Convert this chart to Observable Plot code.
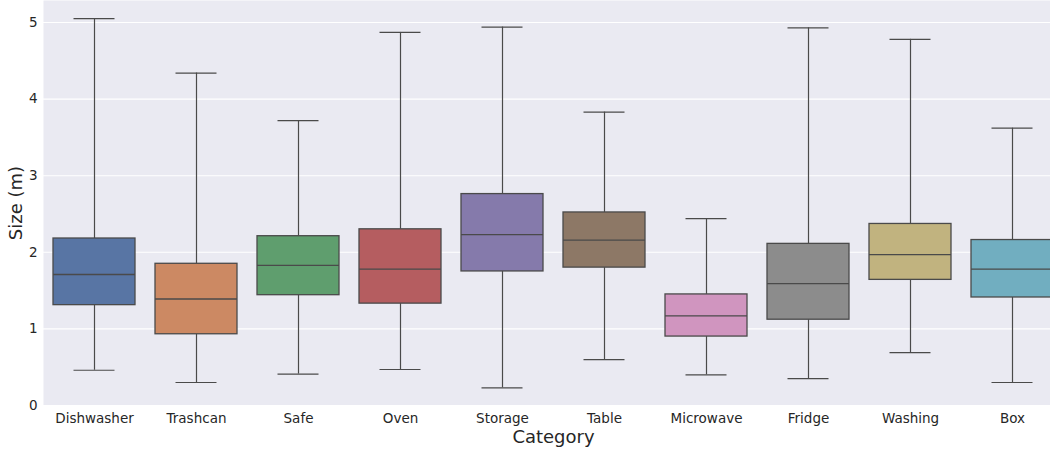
<!DOCTYPE html>
<html>
<head>
<meta charset="utf-8">
<script src="https://cdn.jsdelivr.net/npm/d3@7"></script>
<script src="https://cdn.jsdelivr.net/npm/@observablehq/plot@0.6"></script>
<style>
  html, body { margin: 0; padding: 0; overflow: hidden; background: #fff; width: 1050px; height: 449px; }
  #chart { width: 1063px; }
  #chart svg { display: block; max-width: none !important; width: 1063px !important; height: 449px !important; }
</style>
</head>
<body>
<div id="chart"></div>
<script>
const categories = ["Dishwasher", "Trashcan", "Safe", "Oven", "Storage", "Table", "Microwave", "Fridge", "Washing", "Box"];
const whiskerLow  = [0.46, 0.30, 0.41, 0.47, 0.23, 0.60, 0.40, 0.35, 0.69, 0.30];
const q1          = [1.31, 0.93, 1.44, 1.33, 1.75, 1.80, 0.90, 1.12, 1.64, 1.41];
const median      = [1.71, 1.39, 1.83, 1.78, 2.23, 2.16, 1.17, 1.59, 1.97, 1.78];
const q3          = [2.18, 1.85, 2.21, 2.30, 2.76, 2.52, 1.45, 2.11, 2.37, 2.16];
const whiskerHigh = [5.05, 4.34, 3.72, 4.87, 4.94, 3.83, 2.44, 4.93, 4.78, 3.62];
const colors = ["#5875a4", "#cc8963", "#5f9e6e", "#b55d60", "#857aab", "#8d7866", "#d095bf", "#8c8c8c", "#c1b37f", "#71aec0"];
const yTicks = [0, 1, 2, 3, 4, 5];

const data = categories.map((c, i) => ({
  category: c, low: whiskerLow[i], q1: q1[i], median: median[i], q3: q3[i], high: whiskerHigh[i]
}));

const lineColor = "#4a4a4a";
const textColor = "#262626";
const boxInset = 10;
const capInset = 30.5;

const chart = Plot.plot({
  width: 1063,
  height: 449,
  marginLeft: 43,
  marginRight: 0,
  marginTop: 0,
  marginBottom: 44,
  style: { fontFamily: "DejaVu Sans, sans-serif", fontSize: "13.5px", color: textColor, background: "white", maxWidth: "none" },
  x: { domain: categories, padding: 0, label: null },
  y: { domain: [0, 5.287], label: null },
  color: { domain: categories, range: colors },
  marks: [
    Plot.frame({ fill: "#eaeaf2", stroke: null }),
    Plot.ruleY(yTicks, { stroke: "white", strokeWidth: 1.1 }),
    Plot.axisY({ ticks: yTicks, tickSize: 0, tickPadding: 6, tickFormat: d => String(d), label: null, fontSize: 13.5, fill: textColor }),
    Plot.axisX({ tickSize: 0, tickPadding: 7.5, label: null, fontSize: 13.5, fill: textColor }),
    Plot.ruleX(data, { x: "category", y1: "low", y2: "q1", stroke: lineColor, strokeWidth: 1.2 }),
    Plot.ruleX(data, { x: "category", y1: "q3", y2: "high", stroke: lineColor, strokeWidth: 1.2 }),
    Plot.barY(data, { x: "category", y1: "q1", y2: "q3", fill: "category", stroke: lineColor, strokeWidth: 1.3, insetLeft: boxInset, insetRight: boxInset }),
    Plot.tickY(data, { x: "category", y: "median", stroke: lineColor, strokeWidth: 1.3, insetLeft: boxInset, insetRight: boxInset }),
    Plot.tickY(data, { x: "category", y: "low", stroke: lineColor, strokeWidth: 1.2, insetLeft: capInset, insetRight: capInset }),
    Plot.tickY(data, { x: "category", y: "high", stroke: lineColor, strokeWidth: 1.2, insetLeft: capInset, insetRight: capInset }),
    Plot.text(["Size (m)"], { frameAnchor: "left", textAnchor: "middle", lineAnchor: "middle", dx: -27, rotate: -90, fontSize: 18, fill: textColor }),
    Plot.text(["Category"], { frameAnchor: "bottom", textAnchor: "middle", lineAnchor: "middle", dy: 32, fontSize: 18, fill: textColor })
  ]
});
document.getElementById("chart").appendChild(chart);
</script>
</body>
</html>
